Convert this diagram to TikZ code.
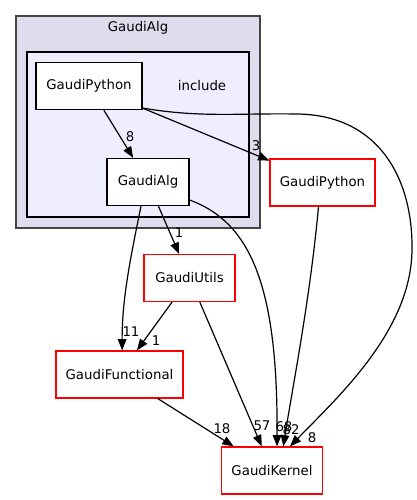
\documentclass[tikz,border=0pt]{standalone}
\usepackage{fontspec}
\setmainfont{DejaVu Sans}
\usetikzlibrary{arrows.meta}
\definecolor{outerfill}{HTML}{DDDDEE}
\definecolor{innerfill}{HTML}{EEEEFF}
\definecolor{outerline}{HTML}{444444}

\begin{document}
\begin{tikzpicture}[x=0.75pt,y=-0.75pt,
  dir/.style={draw=black,fill=white,line width=0.9pt,minimum height=35.25pt,inner sep=0pt},
  extdir/.style={dir,draw=red},
  dep/.style={draw=black,line width=0.9pt,-{Triangle[length=8.5pt,width=6.5pt]}},
  cnt/.style={inner sep=0pt}]
\useasboundingbox (0,0) rectangle (417,500);
% clusters
\draw [outerline,fill=outerfill,line width=1.3pt] (16,16) rectangle (260,228);
\node (lblAlg) at (138,28) {GaudiAlg};
\draw [black,fill=innerfill,line width=0.9pt] (27,52) rectangle (249,217);
\node (lblInc) at (202,86) {include};
% directories
\node [dir,minimum width=79.5pt] (dirPy) at (89,86) {GaudiPython};
\node [dir,minimum width=61.5pt] (dirAlg) at (148,182) {GaudiAlg};
\node [extdir,minimum width=78.75pt] (dirPyExt) at (322.5,182.5) {GaudiPython};
\node [extdir,minimum width=68.25pt] (dirUtils) at (189.5,278) {GaudiUtils};
\node [extdir,minimum width=95.25pt] (dirFunc) at (119.5,374.5) {GaudiFunctional};
\node [extdir,minimum width=75.75pt] (dirKern) at (272,470.5) {GaudiKernel};
% dependencies
\draw [dep] (dirPy) -- (dirAlg);
\draw [dep] (dirPy) -- (dirPyExt);
\draw [dep] ([yshift=-16.5pt]dirPy.east) .. controls (200,118) and (240,113) .. (297,114)
  .. controls (380,115) and (413,180) .. (412,250)
  .. controls (411,330) and (340,395) .. ([xshift=13.5pt]dirKern.north);
\draw [dep] (dirAlg) -- (dirUtils);
\draw [dep] ([xshift=-5.25pt]dirAlg.south) .. controls (130,260) and (122,300) .. ([xshift=2pt]dirFunc.north);
\draw [dep] ([yshift=-13.5pt]dirAlg.east) .. controls (250,222) and (278,285) .. ([xshift=3.75pt]dirKern.north);
\draw [dep] ([xshift=-3pt]dirPyExt.south) .. controls (310,300) and (292,390) .. ([xshift=8.5pt]dirKern.north);
\draw [dep] (dirUtils) -- (dirFunc);
\draw [dep] (dirUtils) -- (dirKern);
\draw [dep] (dirFunc) -- (dirKern);
% counts
\node [cnt] (nPyAlg) at (130,137) {8};
\node [cnt] (nPyExt) at (256,146) {3};
\node [cnt] (nAlgUtils) at (179,233) {1};
\node [cnt] (nAlgFunc) at (131,332) {11};
\node [cnt] (nUtilsFunc) at (156,341) {1};
\node [cnt] (nFuncKern) at (222,429) {18};
\node [cnt] (nUtilsKern) at (262,426) {57};
\node [cnt] (nAlgKern) at (284,427) {68};
\node [cnt] (nExtKern) at (291,430) {82};
\node [cnt] (nPyKern) at (312,438) {8};
\end{tikzpicture}
\end{document}
